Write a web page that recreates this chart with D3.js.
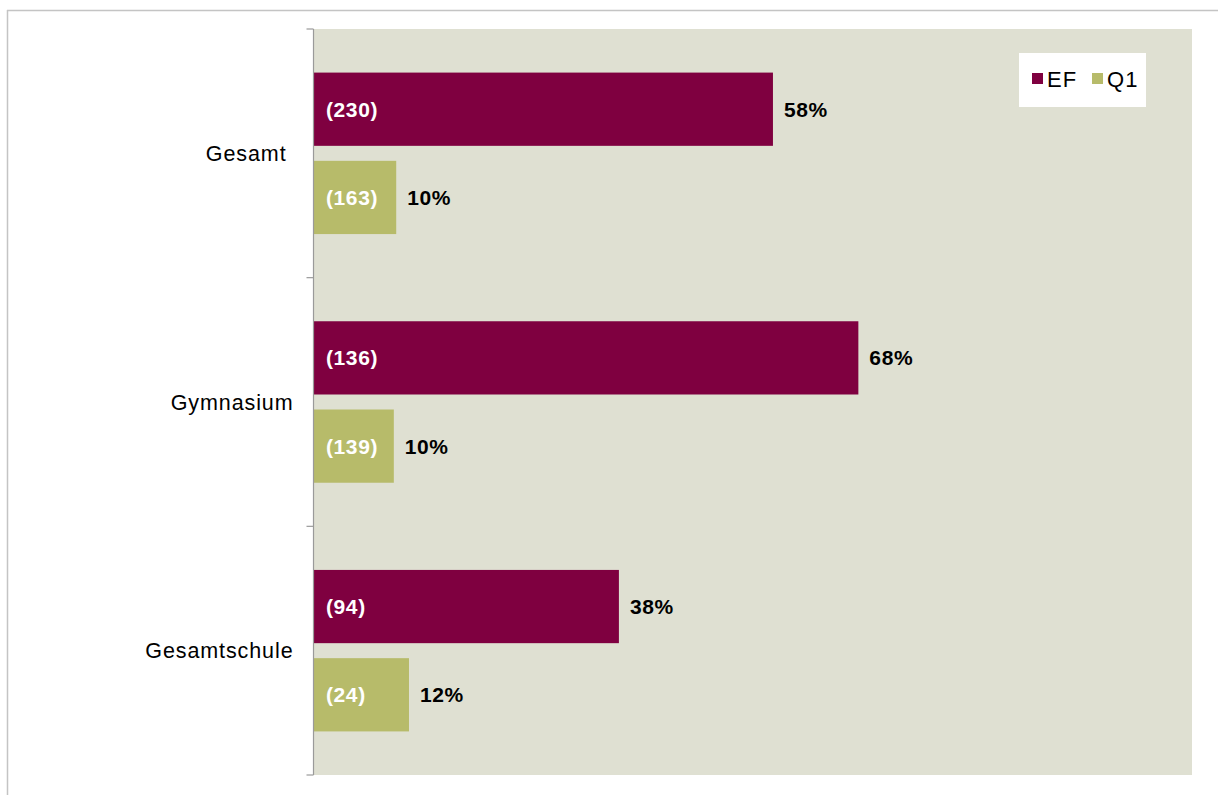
<!DOCTYPE html>
<html>
<head>
<meta charset="utf-8">
<script src="https://cdn.jsdelivr.net/npm/d3@7"></script>
<style>
  html, body { margin: 0; padding: 0; background: #ffffff; }
  svg { display: block; }
  text { font-family: "Liberation Sans", Arial, sans-serif; }
</style>
</head>
<body>
<svg id="chart" width="1218" height="795"></svg>
<script>
// ---- data ----
const categories = ["Gesamt", "Gymnasium", "Gesamtschule"];
const seriesNames = ["EF", "Q1"];
const efPercent = [57.5, 68.2, 38.2];
const q1Percent = [10.3, 10.0, 11.9];
const efCounts = [230, 136, 94];
const q1Counts = [163, 139, 24];

const colors = { EF: "#7f0040", Q1: "#b7bb6a" };

const rows = [];
categories.forEach((c, i) => {
  rows.push({ cat: c, series: "EF", value: efPercent[i], n: efCounts[i] });
  rows.push({ cat: c, series: "Q1", value: q1Percent[i], n: q1Counts[i] });
});

// ---- layout ----
const svg = d3.select("#chart");
const plot = { left: 314, right: 1192, top: 29, bottom: 775 };

// outer frame lines
svg.append("line").attr("x1", 7).attr("x2", 1218).attr("y1", 10.5).attr("y2", 10.5)
  .attr("stroke", "#c4c4c4").attr("stroke-width", 1.5);
svg.append("line").attr("x1", 7.5).attr("x2", 7.5).attr("y1", 10).attr("y2", 795)
  .attr("stroke", "#c4c4c4").attr("stroke-width", 1.5);

// plot background
svg.append("rect")
  .attr("x", plot.left).attr("y", plot.top)
  .attr("width", plot.right - plot.left).attr("height", plot.bottom - plot.top)
  .attr("fill", "#dfe0d2");

const x = d3.scaleLinear().domain([0, 110]).range([plot.left, plot.right]);
const y = d3.scaleBand().domain(categories).range([plot.top, plot.bottom]).paddingInner(0).paddingOuter(0);
const ySub = d3.scaleBand().domain(seriesNames).range([0, y.bandwidth()]).paddingInner(0.17).paddingOuter(0.494);

// bars
svg.append("g").selectAll("rect").data(rows).join("rect")
  .attr("x", x(0))
  .attr("y", d => y(d.cat) + ySub(d.series))
  .attr("width", d => x(d.value) - x(0))
  .attr("height", ySub.bandwidth())
  .attr("fill", d => colors[d.series]);

// count labels inside bars
svg.append("g").selectAll("text").data(rows).join("text")
  .attr("x", x(0) + 12)
  .attr("y", d => y(d.cat) + ySub(d.series) + ySub.bandwidth() / 2)
  .attr("dy", "0.36em")
  .attr("fill", "#ffffff")
  .attr("font-weight", "bold")
  .attr("font-size", 21)
  .attr("letter-spacing", 0.6)
  .text(d => "(" + d.n + ")");

// percentage labels
svg.append("g").selectAll("text").data(rows).join("text")
  .attr("x", d => x(d.value) + 11)
  .attr("y", d => y(d.cat) + ySub(d.series) + ySub.bandwidth() / 2)
  .attr("dy", "0.36em")
  .attr("fill", "#000000")
  .attr("font-weight", "bold")
  .attr("font-size", 21)
  .attr("letter-spacing", 0.6)
  .text(d => Math.round(d.value) + "%");

// category axis
const yAxis = d3.axisLeft(y).tickSize(0).tickPadding(20).tickFormat(d => d);
const axisG = svg.append("g").attr("transform", `translate(${plot.left - 0.5},0)`).call(yAxis);
axisG.select(".domain").attr("stroke", "#9a9a9a").attr("stroke-width", 1.2)
  .attr("d", `M0,${plot.top}V${plot.bottom}`);
axisG.selectAll(".tick text")
  .attr("font-size", 21.5)
  .attr("letter-spacing", 0.9)
  .attr("fill", "#000000")
  .attr("font-family", "'Liberation Sans', Arial, sans-serif")
  .attr("dy", "0.36em");
axisG.selectAll(".tick").filter(d => d === "Gesamt").select("text").attr("dx", -7);

// boundary ticks between categories
const boundaries = categories.map(c => y(c)).concat([plot.bottom]);
axisG.append("g").selectAll("line").data(boundaries).join("line")
  .attr("x1", -7).attr("x2", 0)
  .attr("y1", d => d).attr("y2", d => d)
  .attr("stroke", "#9a9a9a").attr("stroke-width", 1.2);

// legend
const legend = svg.append("g").attr("transform", "translate(1019,53)");
legend.append("rect").attr("width", 127).attr("height", 54).attr("fill", "#ffffff");
const legItems = legend.selectAll("g.item").data(seriesNames).join("g")
  .attr("class", "item")
  .attr("transform", (d, i) => `translate(${13 + i * 60},0)`);
legItems.append("rect").attr("x", 0).attr("y", 20).attr("width", 11).attr("height", 11)
  .attr("fill", d => colors[d]);
legItems.append("text").attr("x", 15).attr("y", 26).attr("dy", "0.36em")
  .attr("font-size", 22).attr("letter-spacing", 1.2).attr("fill", "#000")
  .text(d => d);
</script>
</body>
</html>
